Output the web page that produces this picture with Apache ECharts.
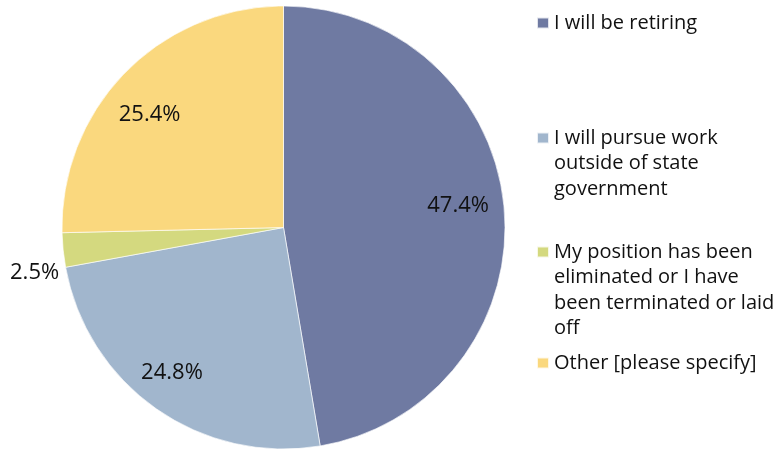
<!DOCTYPE html>
<html>
<head>
<meta charset="utf-8">
<script src="https://cdn.jsdelivr.net/npm/echarts@6/dist/echarts.min.js"></script>
<style>
  html, body { margin: 0; padding: 0; background: #fff; }
  #chart { width: 780px; height: 451px; }
</style>
</head>
<body>
<div id="chart"></div>
<script>
// Reasons for leaving state employment (share of respondents, %)
const categories = [
  'I will be retiring',
  'I will pursue work outside of state government',
  'My position has been eliminated or I have been terminated or laid off',
  'Other [please specify]'
];
const values = [47.4, 24.8, 2.5, 25.4];
const sliceColors = ['#6f7aa2', '#a1b6cd', '#d4d97f', '#fad87e'];
// legend text, wrapped the way it is set beside the pie
const legendLabels = [
  'I will be retiring',
  'I will pursue work\noutside of state\ngovernment',
  'My position has been\neliminated or I have\nbeen terminated or laid\noff',
  'Other [please specify]'
];
// first-line centre of each legend entry (px from top)
const legendRows = [23, 138, 252, 363];

const FONT = '"Open Sans", Lato, sans-serif';
const LH = 25.5;
const CX = 283.5, CY = 227.5, R = 221.5;

const data = categories.map((name, i) => ({
  name: name,
  value: values[i],
  itemStyle: { color: sliceColors[i] }
}));

// Legend text is centred on its swatch; leading blank lines move the
// first real line level with the swatch.
const legends = categories.map((name, i) => {
  const lines = legendLabels[i].split('\n').length;
  const lead = '\n'.repeat(lines - 1);
  return {
    data: [name],
    orient: 'vertical',
    left: 536,
    top: legendRows[i] - (2 * lines - 1) * LH / 2,
    padding: 0,
    itemWidth: 12,
    itemHeight: 11,
    icon: 'rect',
    selectedMode: false,
    formatter: () => lead + legendLabels[i],
    textStyle: {
      fontFamily: FONT,
      fontSize: 20,
      color: '#111',
      lineHeight: LH
    }
  };
});

// small nudges for the in-slice percentage labels
const labelNudge = { 0: { dx: -5, dy: -7 }, 1: { dx: -8, dy: -2 }, 3: { dx: -5, dy: 13 } };

const chart = echarts.init(document.getElementById('chart'), null, { renderer: 'canvas' });
chart.setOption({
  animation: false,
  backgroundColor: '#ffffff',
  legend: legends,
  series: [
    {
      // the pie itself; only the thin slice gets an outside label
      type: 'pie',
      center: [CX, CY],
      radius: [0, R],
      startAngle: 90,
      clockwise: true,
      data: data.map((d, i) => Object.assign({}, d, {
        label: { show: i === 2 }
      })),
      itemStyle: { borderColor: 'rgba(255,255,255,0.8)', borderWidth: 0.8 },
      label: {
        position: 'outside',
        formatter: p => p.value.toFixed(1) + '%',
        fontFamily: FONT,
        fontSize: 22,
        color: '#111',
        distanceToLabelLine: 4
      },
      labelLine: { show: false, length: 0, length2: 0 },
      labelLayout: p => (p.dataIndex === 2 ? { dy: 23 } : {}),
      emphasis: { disabled: true }
    },
    {
      // transparent ring that places the percentage labels well out inside each slice
      type: 'pie',
      center: [CX, CY],
      radius: [R * 0.6, R],
      startAngle: 90,
      clockwise: true,
      silent: true,
      data: data.map((d, i) => ({
        name: d.name,
        value: d.value,
        itemStyle: { color: 'rgba(0,0,0,0)' },
        label: { show: i !== 2 }
      })),
      label: {
        position: 'inside',
        formatter: p => p.value.toFixed(1) + '%',
        fontFamily: FONT,
        fontSize: 22,
        color: '#111'
      },
      labelLine: { show: false },
      labelLayout: p => labelNudge[p.dataIndex] || {},
      emphasis: { disabled: true }
    }
  ]
});
</script>
</body>
</html>
